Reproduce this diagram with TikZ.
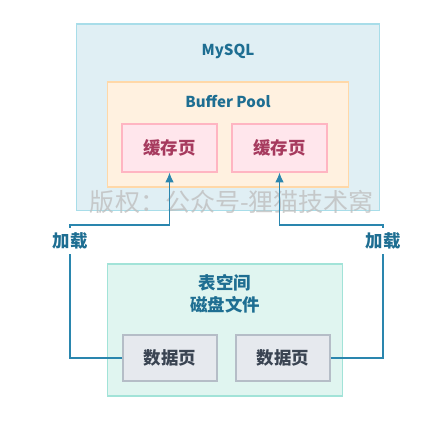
\documentclass[tikz,border=0pt]{standalone}
\usepackage{fontspec}
\setmainfont{Noto Sans CJK SC}
\usepackage{xcolor}
\usepackage{tikz}
\usetikzlibrary{calc, arrows.meta}

\definecolor{mysqlfill}{HTML}{E0EFF4}
\definecolor{mysqlline}{HTML}{A8DDE9}
\definecolor{poolfill}{HTML}{FFF1E0}
\definecolor{poolline}{HTML}{FFD8A8}
\definecolor{cachefill}{HTML}{FFE6EC}
\definecolor{cacheline}{HTML}{FFB5C2}
\definecolor{cachetext}{HTML}{A63A5E}
\definecolor{spacefill}{HTML}{E0F5F0}
\definecolor{spaceline}{HTML}{A2E3D8}
\definecolor{datafill}{HTML}{E6E9EE}
\definecolor{dataline}{HTML}{B5BDC7}
\definecolor{datatext}{HTML}{3A4452}
\definecolor{titleblue}{HTML}{1E6E92}
\definecolor{linkblue}{HTML}{2A86AE}

\tikzset{
    region/.style={draw, line width=0.75pt, inner sep=0pt},
    cachepage/.style={draw=cacheline, fill=cachefill, line width=0.75pt,
        minimum width=2.375cm, minimum height=1.2cm, text=cachetext},
    datapage/.style={draw=dataline, fill=datafill, line width=0.75pt,
        minimum width=2.35cm, minimum height=1.15cm, text=datatext},
    title/.style={text=titleblue, align=center},
    latin/.style={font=\fontsize{10.7}{14}\selectfont\bfseries},
    link/.style={draw=linkblue, line width=0.75pt}
}

\begin{document}
\begin{tikzpicture}[x=0.025cm, y=-0.025cm, font=\fontsize{12.4}{15.6}\selectfont\bfseries]
                \useasboundingbox (0,0) rectangle (438,421);
                
                % 1. Khung MySQL va Buffer Pool
                \node[region, draw=mysqlline, fill=mysqlfill, minimum width=7.575cm, minimum height=4.65cm] (mysql) at (228,117) {};
                \node[title, latin] (mysqltitle) at (228,51) {MySQL};
                \node[region, draw=poolline, fill=poolfill, minimum width=6cm, minimum height=2.625cm] (pool) at (228,134.5) {};
                \node[title, latin] (pooltitle) at (228,101) {Buffer Pool};
                \foreach \i/\x in {1/169.5, 2/279.5} {
                    \node[cachepage] (c\i) at (\x,148) {缓存页};
                }
                
                % 2. Ban quyen
                \node[text=gray!50, opacity=0.8, font=\fontsize{17.8}{20}\selectfont] (mark) at (232,202) {版权：公众号-狸猫技术窝};
                
                % 3. Khung table space
                \node[region, draw=spaceline, fill=spacefill, minimum width=5.85cm, minimum height=3.3cm] (space) at (225,330) {};
                \node[title] (spacetitle) at (225,294) {表空间\\磁盘文件};
                \foreach \i/\x in {1/170, 2/283} {
                    \node[datapage] (d\i) at (\x,358) {数据页};
                }
                
                % 4. Duong tai
                \node[title] (l1) at (70,241) {加载};
                \node[title] (l2) at (383,241) {加载};
                \coordinate (k1) at (c1.south |- 0,225);
                \coordinate (k2) at (c2.south |- 0,225);
                \draw[link] (d1.west) -| (l1.south);
                \draw[link, -{Latex[length=7pt, width=6pt]}] (l1.north) |- (k1) -- (c1.south);
                \draw[link] (d2.east) -| (l2.south);
                \draw[link, -{Latex[length=7pt, width=6pt]}] (l2.north) |- (k2) -- (c2.south);
            \end{tikzpicture}
\end{document}
